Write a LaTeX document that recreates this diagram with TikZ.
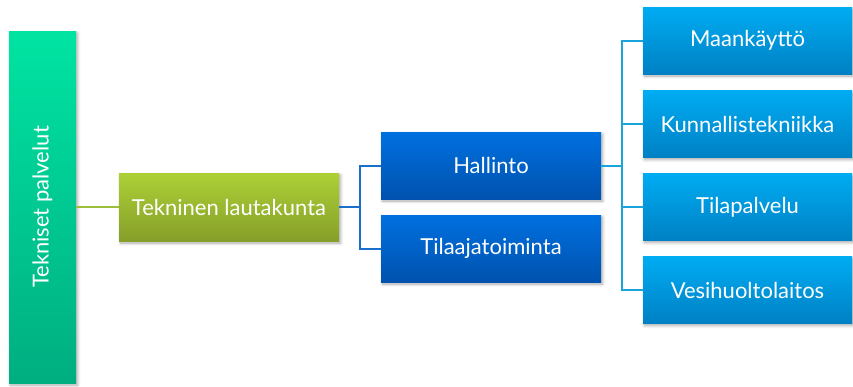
\documentclass[tikz,border=0pt]{standalone}
\usepackage{fontspec}
\setmainfont{Lato}
\usetikzlibrary{shadows.blur}
\definecolor{tealtop}{HTML}{00E4A2}
\definecolor{tealbot}{HTML}{00AE80}
\definecolor{limetop}{HTML}{ADD036}
\definecolor{limebot}{HTML}{869F2A}
\definecolor{bluetop}{HTML}{0070E0}
\definecolor{bluebot}{HTML}{0052AE}
\definecolor{skytop}{HTML}{00ACF2}
\definecolor{skybot}{HTML}{0080C4}
\definecolor{limeline}{HTML}{9CBE3C}
\definecolor{blueline}{HTML}{1A6FCC}
\definecolor{skyline}{HTML}{1AA4DC}
\tikzset{
  boxfont/.style={font=\fontsize{22}{26}\selectfont},
  box/.style={rectangle, text=white, inner sep=0pt, boxfont,
    blur shadow={shadow xshift=1.5pt, shadow yshift=-2pt, shadow blur steps=6, shadow opacity=35, shadow blur radius=3pt}},
  tealbox/.style={box, top color=tealtop, bottom color=tealbot, minimum width=67pt, minimum height=352pt},
  limebox/.style={box, top color=limetop, bottom color=limebot, minimum width=220pt, minimum height=68pt},
  bluebox/.style={box, top color=bluetop, bottom color=bluebot, minimum width=220pt, minimum height=67pt},
  skybox/.style={box, top color=skytop, bottom color=skybot, minimum width=209pt, minimum height=67pt},
  link/.style={line width=2pt},
}
\begin{document}
\begin{tikzpicture}[x=1pt,y=-1pt]
  \useasboundingbox (0,0) rectangle (853,386);
  % boxes
  \node[tealbox] (root) at (42.5,207) {};
  \node[text=white, rotate=90, boxfont] (rootlabel) at (root.center) {Tekniset palvelut};
  \node[limebox] (board) at (229,207) {Tekninen lautakunta};
  \node[bluebox] (admin) at (491,165.5) {Hallinto};
  \node[bluebox] (order) at (491,248.5) {Tilaajatoiminta};
  \node[skybox] (land) at (747.5,40.5) {Maankäyttö};
  \node[skybox] (tech) at (747.5,124) {Kunnallistekniikka};
  \node[skybox] (space) at (747.5,207) {Tilapalvelu};
  \node[skybox] (water) at (747.5,290) {Vesihuoltolaitos};
  % connectors
  \draw[link, limeline] (root.east) -- (board.west);
  \coordinate (fork1) at (360,207);
  \draw[link, blueline] (board.east) -- (fork1) |- (admin.west);
  \draw[link, blueline] (fork1) |- (order.west);
  \coordinate (fork2) at (622,165.5);
  \draw[link, skyline] (admin.east) -- (fork2) |- (land.west);
  \draw[link, skyline] (fork2) |- (tech.west);
  \draw[link, skyline] (fork2) |- (space.west);
  \draw[link, skyline] (fork2) |- (water.west);
\end{tikzpicture}
\end{document}
